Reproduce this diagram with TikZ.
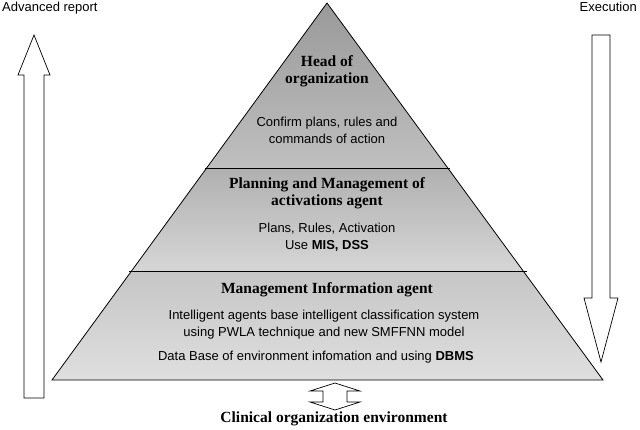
\documentclass[tikz,border=0pt]{standalone}
\usepackage{fontspec}
\setmainfont{Liberation Sans}
\newfontfamily\serifb{Liberation Serif}
\begin{document}
\begin{tikzpicture}[x=1pt,y=-1pt,
  title/.style={font=\serifb\bfseries\fontsize{15.5}{17}\selectfont,align=center,inner sep=0},
  body/.style={font=\fontsize{13}{17}\selectfont,align=center,inner sep=0},
  side/.style={font=\fontsize{13}{14}\selectfont,inner sep=0},
  outl/.style={draw=black,line width=0.7pt,fill=white}]
\useasboundingbox (0,0) rectangle (640,429);
% bands
\begin{scope}
\clip (327,3) -- (603,380) -- (52,380) -- cycle;
\shade[top color=gray!80,bottom color=gray!50] (0,0) rectangle (640,168);
\shade[top color=gray!62,bottom color=gray!32] (0,168) rectangle (640,271);
\shade[top color=gray!45,bottom color=gray!25] (0,271) rectangle (640,380);
\end{scope}
\draw[line width=0.8pt] (327,3) -- (603,380) -- (52,380) -- cycle;
\draw[line width=0.8pt] (205,168) -- (450,168);
\draw[line width=0.8pt] (129,271) -- (527,271);
% texts
\node[title] (t1) at (327,71) {Head of\\organization};
\node[body] (b1) at (327,130) {Confirm plans, rules and\\commands of action};
\node[title] (t2) at (327,193) {Planning and Management of\\activations agent};
\node[body] (b2) at (327,237) {Plans, Rules, Activation\\Use \textbf{MIS, DSS}};
\node[title] (t3) at (327,290) {Management Information agent};
\node[body] (b3) at (324,325) {Intelligent agents base intelligent classification system\\using PWLA technique and new SMFFNN model};
\node[body] (b4) at (316,357) {Data Base of environment infomation and using \textbf{DBMS}};
\node[title] (env) at (334,419) {Clinical organization environment};
\node[side,anchor=north west] (adv) at (2,2) {Advanced report};
\node[side,anchor=north east] (exe) at (637,2) {Execution};
% side arrows
\draw[outl] (24,398) -- (24,75) -- (18,75) -- (34,35) -- (50,75) -- (44,75) -- (44,398) -- cycle;
\draw[outl] (592,35) -- (610,35) -- (610,298) -- (618,298) -- (601,362) -- (584,298) -- (592,298) -- cycle;
% bottom double arrow
\draw[outl] (335,383) -- (360,391) -- (347,391) -- (347,402) -- (360,402) -- (335,410) -- (310,402) -- (323,402) -- (323,391) -- (310,391) -- cycle;
\end{tikzpicture}
\end{document}
